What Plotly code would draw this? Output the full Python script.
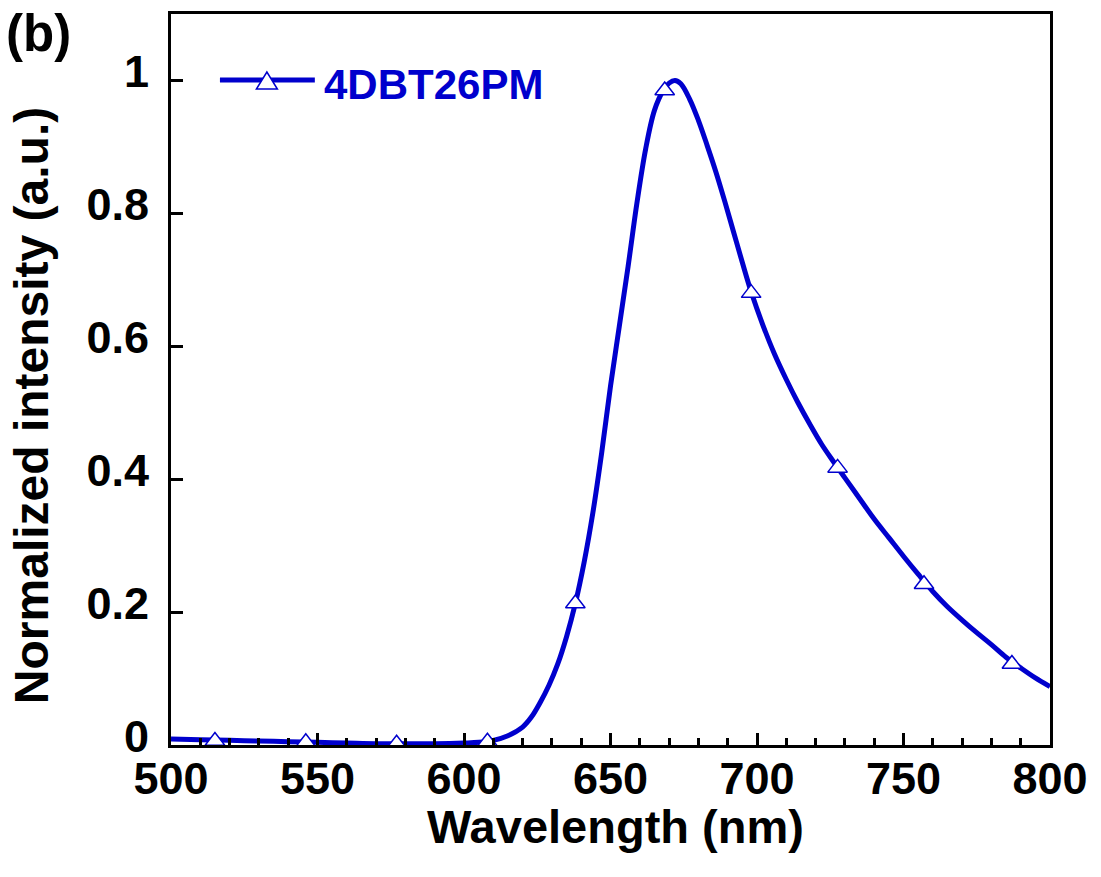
import plotly.graph_objects as go

# Emission spectrum
wavelength = [500, 510, 520, 530, 540, 550, 560, 570, 580, 590, 600, 605, 610, 615,
              620, 623, 626, 629, 632, 635, 638, 641, 644, 647, 650, 653, 656, 659,
              662, 665, 668, 670, 672, 674, 677, 680, 683, 686, 689, 692, 695, 698,
              702, 706, 710, 714, 718, 722, 726, 730, 735, 740, 745, 750, 755, 760,
              765, 770, 775, 780, 785, 790, 795, 800]
intensity = [0.009, 0.008, 0.007, 0.006, 0.005, 0.004, 0.003, 0.002, 0.002, 0.002,
             0.003, 0.004, 0.007, 0.014, 0.027, 0.042, 0.064, 0.090, 0.122, 0.163,
             0.213, 0.275, 0.350, 0.440, 0.540, 0.630, 0.720, 0.815, 0.897, 0.955,
             0.985, 0.996, 1.000, 0.995, 0.972, 0.940, 0.902, 0.862, 0.818, 0.772,
             0.726, 0.682, 0.632, 0.588, 0.550, 0.515, 0.483, 0.453, 0.427, 0.402,
             0.371, 0.340, 0.312, 0.284, 0.257, 0.231, 0.208, 0.188, 0.169, 0.151,
             0.132, 0.116, 0.101, 0.088]

# Marker positions along the curve
marker_wavelength = [515, 546, 577, 608, 638, 668.5, 698, 727.5, 757, 787]
marker_intensity = [0.006, 0.004, 0.002, 0.005, 0.213, 0.985, 0.680, 0.417, 0.242, 0.122]

series_name = "4DBT26PM"
x_ticks = [500, 550, 600, 650, 700, 750, 800]
y_ticks = [0, 0.2, 0.4, 0.6, 0.8, 1]
y_tick_text = ["0", "0.2", "0.4", "0.6", "0.8", "1"]

BLUE = "#0000CD"
FONT = "Liberation Sans"

fig = go.Figure()
fig.add_trace(go.Scatter(x=wavelength, y=intensity, mode="lines",
                         line=dict(color=BLUE, width=5, shape="spline", smoothing=1.0),
                         showlegend=False, hoverinfo="skip"))
fig.add_trace(go.Scatter(x=marker_wavelength, y=marker_intensity, mode="markers",
                         marker=dict(symbol="triangle-up", size=17, color="white",
                                     line=dict(color=BLUE, width=1.5)),
                         showlegend=False))

axis_common = dict(showline=True, linecolor="black", linewidth=3, mirror=True,
                   ticks="inside", tickcolor="black", tickwidth=3, ticklen=12,
                   showgrid=False, zeroline=False,
                   tickfont=dict(family=FONT, size=45, color="black", weight="bold"))

fig.update_xaxes(range=[500, 800], tickvals=x_ticks, ticklabelstandoff=-8,
                 minor=dict(dtick=10, ticks="inside", ticklen=7, tickwidth=3,
                            tickcolor="black", showgrid=False),
                 **axis_common)
fig.update_yaxes(range=[0, 1.1], tickvals=y_ticks, ticktext=y_tick_text,
                 ticklabelstandoff=10, ticklabelshift=-9, **axis_common)

W, H = 880, 731  # plot area size in px

def px_x(p):
    return (p - 171) / W

def px_y(p):
    return (745 - p) / H

shapes = [
    dict(type="line", xref="paper", yref="paper", x0=px_x(220), x1=px_x(315),
         y0=px_y(80), y1=px_y(80), line=dict(color=BLUE, width=5)),
    dict(type="path", xref="paper", yref="paper",
         path=f"M {px_x(256.5)} {px_y(89)} L {px_x(277.5)} {px_y(89)} L {px_x(267)} {px_y(72)} Z",
         fillcolor="white", line=dict(color=BLUE, width=1.5)),
]

annotations = [
    dict(text=series_name, xref="paper", yref="paper", x=px_x(322), y=px_y(85),
         xanchor="left", yanchor="middle", showarrow=False,
         font=dict(family=FONT, size=42, color=BLUE, weight="bold")),
    dict(text="(b)", xref="paper", yref="paper", x=px_x(4), y=px_y(33),
         xanchor="left", yanchor="middle", showarrow=False,
         font=dict(family=FONT, size=51, color="black", weight="bold")),
    dict(text="Normalized intensity (a.u.)", xref="paper", yref="paper",
         x=px_x(31), y=px_y(406), textangle=-90, xanchor="center", yanchor="middle",
         showarrow=False, font=dict(family=FONT, size=48, color="black", weight="bold")),
    dict(text="Wavelength (nm)", xref="paper", yref="paper",
         x=px_x(616), y=px_y(826), xanchor="center", yanchor="middle",
         showarrow=False, font=dict(family=FONT, size=47, color="black", weight="bold")),
]

fig.update_layout(width=1101, height=877, margin=dict(l=171, r=51, t=14, b=132),
                  paper_bgcolor="white", plot_bgcolor="white",
                  shapes=shapes, annotations=annotations, showlegend=False)

fig.write_html("out.html")
